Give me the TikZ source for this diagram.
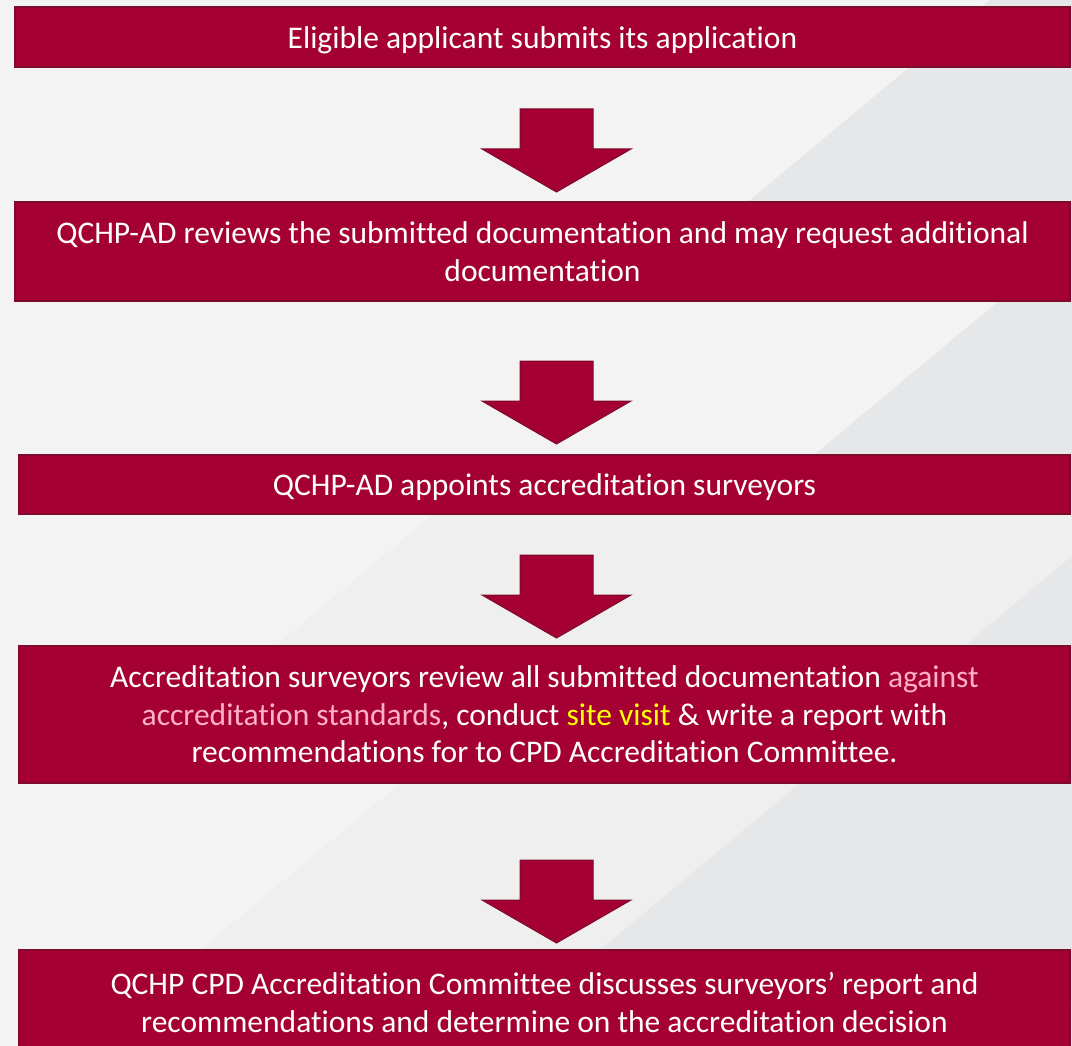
\documentclass[tikz,border=0pt]{standalone}
\usepackage{fontspec}
\setmainfont{Carlito}[Ligatures={NoCommon}]
\definecolor{crimson}{HTML}{A50034}
\definecolor{crimsonedge}{HTML}{7E0A2C}
\definecolor{pinkhi}{HTML}{FFB0C8}
\definecolor{yellowhi}{HTML}{FFFF00}
\definecolor{bgbase}{HTML}{F3F3F4}
\definecolor{bgmid}{HTML}{EFEFF0}
\definecolor{bgdark}{HTML}{E6E7E9}
\tikzset{
  stepbox/.style={draw=crimsonedge, line width=1.2pt, fill=crimson, text=white,
    minimum width=1052pt, inner sep=0pt, align=center,
    font=\fontsize{31.5}{37.5}\selectfont},
  blockarrow/.style={draw=crimsonedge, line width=1pt, fill=crimson}
}
\newcommand{\downblock}[1]{%
  \draw[blockarrow, shift={(#1)}] (-36.5,0) -- (36.5,0) -- (36.5,40) -- (74.5,40)
    -- (0,83) -- (-74.5,40) -- (-36.5,40) -- cycle;}
\begin{document}
\begin{tikzpicture}[x=1pt, y=-1pt]
  % page and background shading bands
  \fill[bgbase] (0,0) rectangle (1072,1046);
  \useasboundingbox (0,0) rectangle (1072,1046);
  \fill[bgmid] (474,480) -- (1072,480) -- (1072,700) -- (210,700) -- cycle;
  \fill[bgmid] (476,720) -- (1072,720) -- (1072,1000) -- (140,1000) -- cycle;
  \fill[bgdark] (990,0) -- (1072,0) -- (1072,250) -- (690,250) -- cycle;
  \fill[bgdark] (1060,250) -- (1072,250) -- (1072,480) -- (784,480) -- cycle;
  \fill[bgdark] (1072,556) -- (1072,1000) -- (540,1000) -- cycle;

  % process steps
  \node[stepbox, minimum width=1055pt, minimum height=60pt] (b1) at (542.5,37)
    {\raisebox{-3pt}[\height][\depth]{Eligible applicant submits its application}};
  \node[stepbox, minimum width=1055pt, minimum height=99pt] (b2) at (542.5,251.5)
    {QCHP-AD reviews the submitted documentation and may request additional\\documentation};
  \node[stepbox, minimum width=1051pt, minimum height=59pt] (b3) at (544.5,484.5)
    {\raisebox{-3pt}[\height][\depth]{QCHP-AD appoints accreditation surveyors}};
  \node[stepbox, minimum width=1051pt, minimum height=137pt] (b4) at (544.5,714.5)
    {Accreditation surveyors review all submitted documentation \textcolor{pinkhi}{against}\\
     \textcolor{pinkhi}{accreditation standards}, conduct \textcolor{yellowhi}{site visit} \& write a report with\\
     recommendations for to CPD Accreditation Committee.};
  \node[stepbox, minimum width=1051pt, minimum height=110pt, text depth=0pt] (b5) at (544.5,1005)
    {\raisebox{29pt}{\begin{tabular}{@{}c@{}}QCHP CPD Accreditation Committee discusses surveyors’ report and\\
     recommendations and determine on the accreditation decision\end{tabular}}};

  % block arrows between steps
  \coordinate (a1) at (556.5,109);
  \coordinate (a2) at (556.5,361);
  \coordinate (a3) at (556.5,555);
  \coordinate (a4) at (556.5,860);
  \downblock{a1}
  \downblock{a2}
  \downblock{a3}
  \downblock{a4}
\end{tikzpicture}
\end{document}
